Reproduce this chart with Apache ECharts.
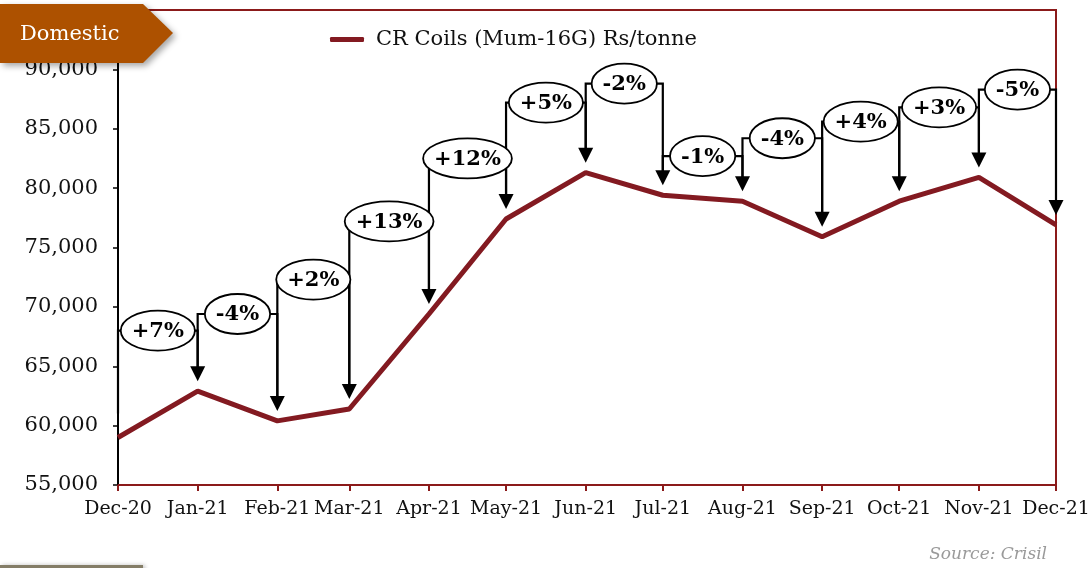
<!DOCTYPE html>
<html>
<head>
<meta charset="utf-8">
<title>CR Coils</title>
<script src="https://cdn.jsdelivr.net/npm/echarts@6/dist/echarts.min.js"></script>
<style>
  html, body { margin: 0; padding: 0; background: #fff; }
  #chart { width: 1089px; height: 568px; }
</style>
</head>
<body>
<div id="chart"></div>
<script>
const dates = ['2020-12-01', '2021-01-01', '2021-02-01', '2021-03-01', '2021-04-01', '2021-05-01', '2021-06-01',
  '2021-07-01', '2021-08-01', '2021-09-01', '2021-10-01', '2021-11-01', '2021-12-01']
const monthLabels = ['Dec-20', 'Jan-21', 'Feb-21', 'Mar-21', 'Apr-21', 'May-21', 'Jun-21',
  'Jul-21', 'Aug-21', 'Sep-21', 'Oct-21', 'Nov-21', 'Dec-21']
const prices = [59000, 62900, 60400, 61400, 69400, 77400, 81300, 79400, 78900, 75900, 78900, 80900, 76900]
// month on month change, drawn between two months
const changeLabels = ['+7%', '-4%', '+2%', '+13%', '+12%', '+5%', '-2%', '-1%', '-4%', '+4%', '+3%', '-5%']
// height of each bracket, in Rs/tonne
const bracketLevels = [68000, 69400, 72300, 77200, 82500, 87200, 88800, 82700, 84200, 85600, 86800, 88300]
const yMin = 55000
const yMax = 95000
const yStep = 5000

const serif = "'DejaVu Serif', serif"
const maroon = '#831a21'
const borderRed = '#8b1a1a'

// x is the day count from the first month, so the months keep their real lengths
const dayMs = 24 * 3600 * 1000
const toDay = (s) => {
  const [y, m, d] = s.split('-').map(Number)
  return Math.round((Date.UTC(y, m - 1, d) - Date.UTC(2020, 11, 1)) / dayMs)
}
const days = dates.map(toDay)

const labelFont = 'bold 21px ' + serif
const ctx = document.createElement('canvas').getContext('2d')
ctx.font = labelFont
const textWidth = (t) => ctx.measureText(t).width

const bracketData = changeLabels.map((label, i) => [days[i], bracketLevels[i], i])

const renderBracketLines = (params, api) => {
  const i = api.value(2)
  const a = api.coord([days[i], prices[i]])
  const b = api.coord([days[i + 1], prices[i + 1]])
  const lv = api.coord([days[i], bracketLevels[i]])[1]
  const tipY = b[1] - 10
  return {
    type: 'group',
    children: [
      {
        type: 'polyline',
        shape: { points: [[a[0], a[1] - 24], [a[0], lv], [b[0], lv], [b[0], tipY - 14]] },
        style: { stroke: '#000', lineWidth: 2.2, fill: null },
      },
      {
        type: 'polygon',
        shape: { points: [[b[0] - 7.5, tipY - 15], [b[0] + 7.5, tipY - 15], [b[0], tipY]] },
        style: { fill: '#000' },
      },
    ],
  }
}

const renderBracketLabels = (params, api) => {
  const i = api.value(2)
  const a = api.coord([days[i], prices[i]])
  const b = api.coord([days[i + 1], prices[i + 1]])
  const lv = api.coord([days[i], bracketLevels[i]])[1]
  const cx = (a[0] + b[0]) / 2
  const rx = textWidth(changeLabels[i]) / 2 + 11
  return {
    type: 'group',
    children: [
      {
        type: 'ellipse',
        shape: { cx: cx, cy: lv, rx: rx, ry: 20 },
        style: { fill: '#fff', stroke: '#000', lineWidth: 1.8 },
      },
      {
        type: 'text',
        style: {
          text: changeLabels[i],
          x: cx,
          y: lv + 1,
          align: 'center',
          verticalAlign: 'middle',
          font: labelFont,
          fill: '#000',
        },
      },
    ],
  }
}

const chart = echarts.init(document.getElementById('chart'))

chart.setOption({
  animation: false,
  backgroundColor: '#fff',
  grid: {
    left: 118,
    right: 33,
    top: 10,
    bottom: 83,
    outerBoundsMode: 'none',
    show: true,
    borderColor: borderRed,
    borderWidth: 2,
  },
  legend: {
    left: 325,
    top: 24,
    icon: 'roundRect',
    itemWidth: 34,
    itemHeight: 5,
    textStyle: {
      fontFamily: serif,
      fontSize: 21,
      color: '#111',
      padding: [0, 0, 0, 7],
    },
    data: ['CR Coils (Mum-16G) Rs/tonne'],
  },
  xAxis: {
    type: 'value',
    min: days[0],
    max: days[days.length - 1],
    axisLine: { lineStyle: { color: borderRed, width: 2 } },
    axisTick: {
      show: true,
      length: 6,
      lineStyle: { color: borderRed, width: 2 },
      customValues: days,
    },
    axisLabel: {
      customValues: days,
      margin: 15,
      fontFamily: serif,
      fontSize: 19,
      color: '#111',
      showMinLabel: true,
      showMaxLabel: true,
      formatter: (value) => {
        const idx = days.indexOf(value)
        return idx === -1 ? '' : monthLabels[idx]
      },
    },
    splitLine: { show: false },
  },
  yAxis: {
    type: 'value',
    min: yMin,
    max: yMax,
    interval: yStep,
    axisLine: { show: true, lineStyle: { color: '#000', width: 2 } },
    axisTick: { show: true, length: 5, lineStyle: { color: '#000', width: 1.5 } },
    axisLabel: {
      margin: 20,
      fontFamily: serif,
      fontSize: 21,
      color: '#111',
      formatter: (v) => (v === yMax ? '' : v.toLocaleString('en-US')),
    },
    splitLine: { show: false },
  },
  series: [
    {
      type: 'custom',
      name: 'brackets',
      renderItem: renderBracketLines,
      data: bracketData,
      encode: { x: 0, y: 1 },
      clip: false,
      z: 3,
    },
    {
      name: 'CR Coils (Mum-16G) Rs/tonne',
      type: 'line',
      data: days.map((d, i) => [d, prices[i]]),
      symbol: 'none',
      lineStyle: { color: maroon, width: 5 },
      itemStyle: { color: maroon },
      z: 4,
    },
    {
      type: 'custom',
      name: 'bracket labels',
      renderItem: renderBracketLabels,
      data: bracketData,
      encode: { x: 0, y: 1 },
      clip: false,
      z: 5,
    },
  ],
  graphic: [
    {
      type: 'polygon',
      shape: { points: [[0, 4], [143, 4], [173, 33], [143, 63], [0, 63]] },
      style: {
        fill: '#ad5100',
        shadowBlur: 6,
        shadowColor: 'rgba(0,0,0,0.35)',
        shadowOffsetX: 3,
        shadowOffsetY: 3,
      },
      z: 10,
    },
    {
      type: 'text',
      style: {
        text: 'Domestic',
        x: 20,
        y: 35,
        verticalAlign: 'middle',
        font: '21px ' + serif,
        fill: '#fff',
      },
      z: 11,
    },
    {
      type: 'rect',
      shape: { x: 0, y: 565, width: 143, height: 10 },
      style: {
        fill: '#847d67',
        shadowBlur: 4,
        shadowColor: 'rgba(0,0,0,0.25)',
        shadowOffsetX: 2,
      },
      z: 10,
    },
    {
      type: 'text',
      style: {
        text: 'Source: Crisil',
        x: 1047,
        y: 555,
        align: 'right',
        verticalAlign: 'middle',
        font: 'italic 17px ' + serif,
        fill: '#9a9a9a',
      },
      z: 10,
    },
  ],
})
</script>
</body>
</html>
